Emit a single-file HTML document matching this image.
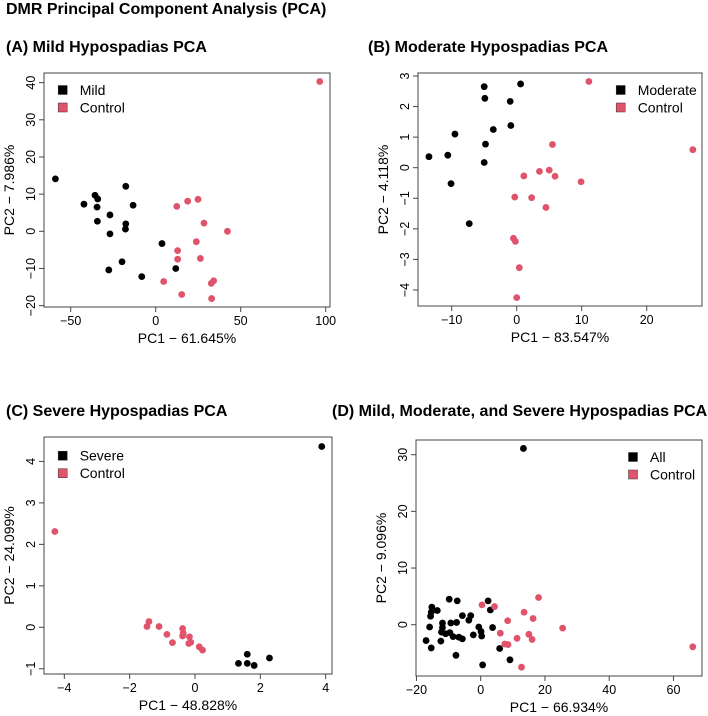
<!DOCTYPE html>
<html><head><meta charset="utf-8"><style>
body{margin:0;background:#fff}
svg{display:block;font-family:"Liberation Sans",Arial,sans-serif}
</style></head><body>
<svg id="fig" width="708" height="716">
<text x="6" y="14" font-size="16" font-weight="bold">DMR Principal Component Analysis (PCA)</text>
</svg>
<script>
// Panel A data
const aBlackX=[-59,-42.2,-35.7,-34.1,-34.5,-34.3,-26.9,-26.9,-17.6,-13.3,-17.6,-17.8,-19.8,-27.6,-8.2,3.7,11.8];
const aBlackY=[14.1,7.3,9.7,8.7,6.5,2.7,4.4,-0.7,12.1,7.0,2.0,0.6,-8.2,-10.4,-12.2,-3.3,-10.0];
const aRedX=[96.5,12.4,18.8,24.9,28.4,42.2,23.9,12.9,12.9,26.3,34.1,32.7,4.7,15.3,32.9];
const aRedY=[40.3,6.7,8.1,8.6,2.2,0,-2.8,-5.2,-7.5,-7.3,-13.3,-14.0,-13.5,-17.0,-18.1];
const aXTicks=[-50,0,50,100];
const aYTicks=[-20,-10,0,10,20,30,40];
// Panel B data
const bBlackX=[-13.5,-10.6,-9.5,-10.1,-7.3,-5.0,-4.9,-4.8,-5.0,-3.6,-1.0,-0.9,0.6];
const bBlackY=[0.36,0.41,1.10,-0.52,-1.83,2.65,2.27,0.77,0.17,1.25,2.17,1.38,2.74];
const bRedX=[11.1,27.1,5.5,1.1,3.5,5.0,5.9,9.9,-0.3,2.3,4.5,-0.5,-0.2,0.4,0.0];
const bRedY=[2.82,0.59,0.76,-0.27,-0.12,-0.08,-0.28,-0.46,-0.96,-0.98,-1.30,-2.31,-2.41,-3.27,-4.25];
const bXTicks=[-10,0,10,20];
const bYTicks=[-4,-3,-2,-1,0,1,2,3];
// Panel C data
const cBlackX=[3.88,1.33,1.60,1.60,1.81,2.28];
const cBlackY=[4.36,-0.87,-0.65,-0.87,-0.92,-0.74];
const cRedX=[-4.29,-1.47,-1.41,-1.10,-0.86,-0.69,-0.38,-0.38,-0.36,-0.19,-0.17,-0.13,0.13,0.23];
const cRedY=[2.31,0.02,0.14,0.02,-0.17,-0.37,-0.03,-0.21,-0.14,-0.39,-0.23,-0.36,-0.47,-0.55];
const cXTicks=[-4,-2,0,2,4];
const cYTicks=[-1,0,1,2,3,4];
// Panel D data
const dBlackX=[13.3,-17.0,-15.9,-15.6,-15.4,-15.2,-15.4,-13.5,-12.2,-11.9,-11.9,-12.4,-10.9,-9.6,-9.8,-9.3,-8.6,-7.5,-7.3,-7.7,-6.8,-5.7,-5.7,-3.7,-3.1,-2.3,-0.6,0.1,0.3,0.6,2.3,3.0,3.7,5.9,9.1];
const dBlackY=[31.1,-2.8,-0.4,1.5,2.2,3.1,-4.1,2.5,-1.3,0.3,-0.5,-2.9,-1.6,-1.4,4.5,0.3,-2.1,0.4,4.2,-5.4,-2.2,1.6,-2.5,0.8,1.6,-1.8,-0.4,-1.2,-2.0,-7.1,4.2,2.6,-0.5,-4.2,-6.2];
const dRedX=[0.4,4.3,8.4,6.1,7.5,8.5,11.3,13.5,15.0,16.0,16.3,18.0,25.5,12.7,66.0];
const dRedY=[3.5,3.2,0.7,-1.5,-3.4,-3.5,-2.4,2.2,-1.7,-2.6,1.1,4.8,-0.6,-7.5,-3.9];
const dXTicks=[-20,0,20,40,60];
const dYTicks=[0,10,20,30];

const NS="http://www.w3.org/2000/svg";
const svg=document.getElementById('fig');
const RED="#DF536B";
function mk(tag,attrs,parent){const e=document.createElementNS(NS,tag);for(const k in attrs)e.setAttribute(k,attrs[k]);(parent||svg).appendChild(e);return e;}

function panel(p){
  const g=mk('g',{});
  
  
  const sx=v=>p.x0+v*p.xs, sy=v=>p.y0-v*p.ys;
  const t=mk('text',{x:p.tx,y:p.ty,'font-size':16,'font-weight':'bold'},g);t.textContent=p.title;
  
  
  const box=mk('rect',{x:p.L,y:p.T,width:p.R-p.L,height:p.B-p.T,fill:'none',stroke:'#444','stroke-width':1},g);
  
  
  const xt=p.xt, yt=p.yt;
  mk('line',{x1:sx(xt[0]),x2:sx(xt[xt.length-1]),y1:p.B,y2:p.B,stroke:'#444'},g);
  xt.forEach(v=>{
    mk('line',{x1:sx(v),x2:sx(v),y1:p.B,y2:p.B+5,stroke:'#444'},g);
    const l=mk('text',{x:sx(v),y:p.B+18,'font-size':12.5,'text-anchor':'middle'},g);
    l.textContent=v<0?'\u2212'+(-v):String(v);
    
    
  });
  mk('line',{x1:p.L,x2:p.L,y1:sy(yt[0]),y2:sy(yt[yt.length-1]),stroke:'#444'},g);
  yt.forEach(v=>{
    mk('line',{x1:p.L-5,x2:p.L,y1:sy(v),y2:sy(v),stroke:'#444'},g);
    const X=p.L-9,Y=sy(v);
    const l=mk('text',{x:X,y:Y,'font-size':12.5,'text-anchor':'middle',transform:`rotate(-90 ${X} ${Y})`},g);
    l.textContent=v<0?'\u2212'+(-v):String(v);
    
    
  });
  const xl=mk('text',{x:(p.L+p.R)/2,y:p.B+36,'font-size':14,'text-anchor':'middle'},g);
  xl.textContent=p.xlab;
  
  
  const yx=p.L-30, yy=(p.T+p.B)/2;
  const yl=mk('text',{x:yx,y:yy,'font-size':14,'text-anchor':'middle',transform:`rotate(-90 ${yx} ${yy})`},g);
  yl.textContent=p.ylab;
  
  
  p.bx.forEach((v,i)=>{const c=mk('circle',{cx:sx(v),cy:sy(p.by[i]),r:3.4,fill:'#000'},g);
    
    });
  p.rx.forEach((v,i)=>{const c=mk('circle',{cx:sx(v),cy:sy(p.ry[i]),r:3.4,fill:RED},g);
    
    });
  [[p.leg,'#000'],['Control',RED]].forEach((e,i)=>{
    const y=p.ly+i*17.5;
    const s=mk('rect',{x:p.lx-4.5,y:y-4.5,width:9,height:9,fill:e[1],stroke:'#333','stroke-width':0.5},g);
    
    
    const tx=mk('text',{x:p.lx+17,y:y+5,'font-size':14},g);tx.textContent=e[0];
    
    
  });
}
panel({id:'a',title:'(A) Mild Hypospadias PCA',tx:6,ty:52,L:44,R:330,T:73,B:307,x0:155.7,xs:1.70,y0:231.3,ys:3.717,
  xt:aXTicks,yt:aYTicks,bx:aBlackX,by:aBlackY,rx:aRedX,ry:aRedY,xlab:'PC1 \u2212 61.645%',ylab:'PC2 \u2212 7.986%',leg:'Mild',lx:62.7,ly:90});
panel({id:'b',title:'(B) Moderate Hypospadias PCA',tx:368,ty:52,L:418,R:702,T:73,B:306,x0:516.7,xs:6.5,y0:167.7,ys:30.57,
  xt:bXTicks,yt:bYTicks,bx:bBlackX,by:bBlackY,rx:bRedX,ry:bRedY,xlab:'PC1 \u2212 83.547%',ylab:'PC2 \u2212 4.118%',leg:'Moderate',lx:620.7,ly:90});
panel({id:'c',title:'(C) Severe Hypospadias PCA',tx:6,ty:416,L:44,R:332,T:437,B:674,x0:195,xs:32.67,y0:627.3,ys:41.47,
  xt:cXTicks,yt:cYTicks,bx:cBlackX,by:cBlackY,rx:cRedX,ry:cRedY,xlab:'PC1 \u2212 48.828%',ylab:'PC2 \u2212 24.099%',leg:'Severe',lx:62.7,ly:455.7});
panel({id:'d',title:'(D) Mild, Moderate, and Severe Hypospadias PCA',tx:332,ty:416,L:416,R:702,T:440,B:676,x0:480.7,xs:3.213,y0:624.7,ys:5.667,
  xt:dXTicks,yt:dYTicks,bx:dBlackX,by:dBlackY,rx:dRedX,ry:dRedY,xlab:'PC1 \u2212 66.934%',ylab:'PC2 \u2212 9.096%',leg:'All',lx:633,ly:457});
</script>
</body></html>
